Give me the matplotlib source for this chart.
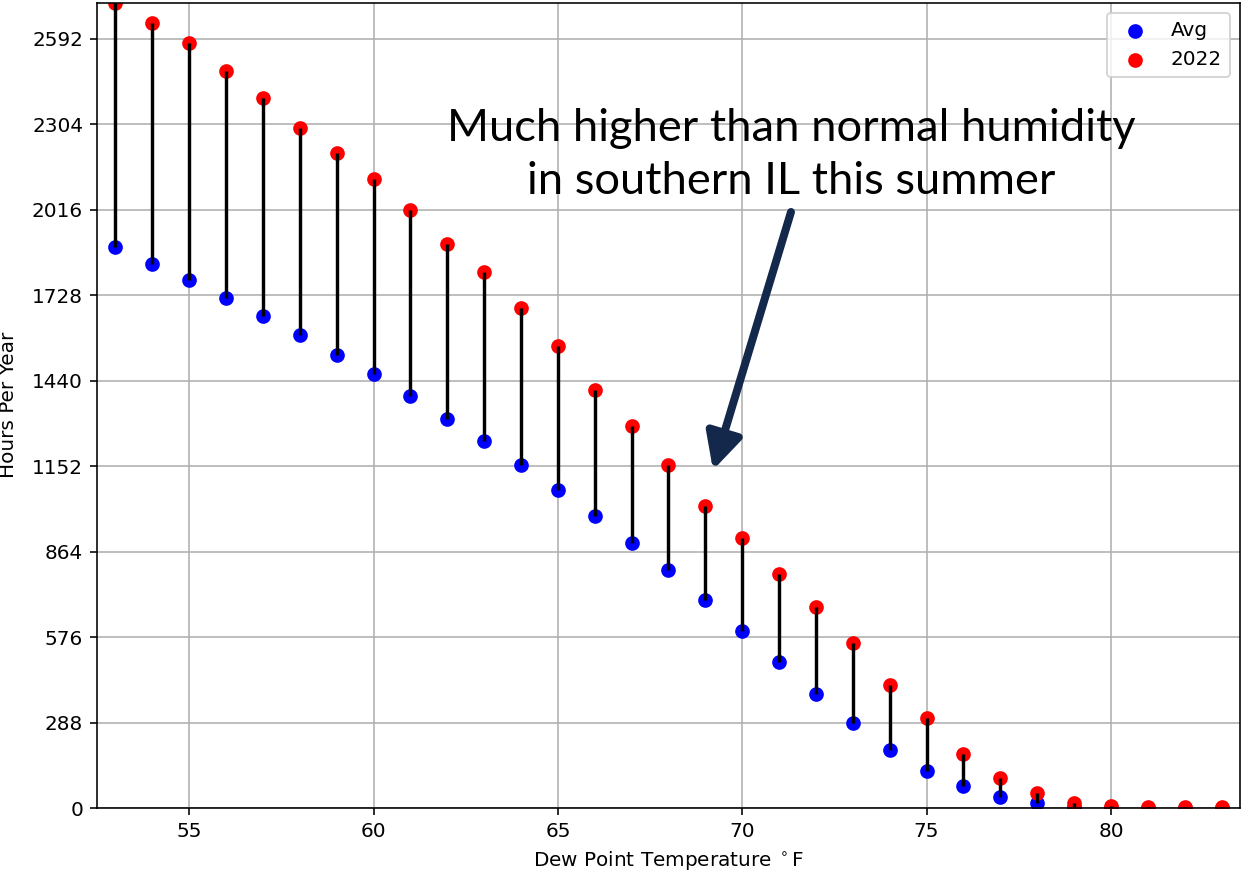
import matplotlib.pyplot as plt
import numpy as np

# dew point bins (F) and hours per year
dew_point = list(range(53, 84))
avg_hours = [1891, 1833, 1779, 1719, 1658, 1594, 1527, 1463, 1388, 1311,
             1237, 1156, 1072, 984, 893, 802, 701, 596, 492, 384,
             286, 195, 125, 74, 37, 17, 4, 1, 0, 0, 0]
hours_2022 = [2713, 2645, 2578, 2484, 2393, 2292, 2207, 2120, 2015, 1901,
              1806, 1685, 1557, 1409, 1287, 1156, 1018, 910, 789, 677,
              556, 415, 303, 182, 101, 51, 17, 7, 5, 4, 3]
ytick_vals = list(range(0, 2593, 288))

W, H = 1242, 879
dpi = 144
fig = plt.figure(figsize=(W / dpi, H / dpi), dpi=dpi)
ax = fig.add_axes([97 / W, 1 - 808 / H, (1240 - 97) / W, (808 - 3) / H])

ax.scatter(dew_point, avg_hours, color='blue', label='Avg', s=40)
ax.scatter(dew_point, hours_2022, color='red', label='2022', s=40)
ax.vlines(dew_point, avg_hours, hours_2022, color='k', lw=1.7, zorder=3)

ax.set_xlim(52.5, 83.5)
ax.set_ylim(0, max(hours_2022))
ax.set_yticks(ytick_vals)
ax.grid(True)
ax.set_axisbelow(True)
ax.legend(loc='upper right')
ax.set_xlabel(r'Dew Point Temperature $^\circ$F')
fig.text(-1 / W, 1 - 405 / H, 'Hours Per Year', rotation=90,
         ha='left', va='center', fontsize=10)

# overlay note
fig.text(791 / W, 1 - 155 / H, 'Much higher than normal humidity\nin southern IL this summer',
         ha='center', va='center', multialignment='center', family=['Lato', 'DejaVu Sans'],
         fontsize=22.6, linespacing=1.38, color='black')
ax.annotate('', xy=(713, H - 470), xytext=(791, H - 212),
            xycoords='figure pixels', textcoords='figure pixels',
            arrowprops=dict(arrowstyle='-|>,head_length=0.75,head_width=0.38',
                            lw=4, color='#14284b', mutation_scale=20,
                            shrinkA=0, shrinkB=0))

fig.savefig('out.png', dpi=dpi)
